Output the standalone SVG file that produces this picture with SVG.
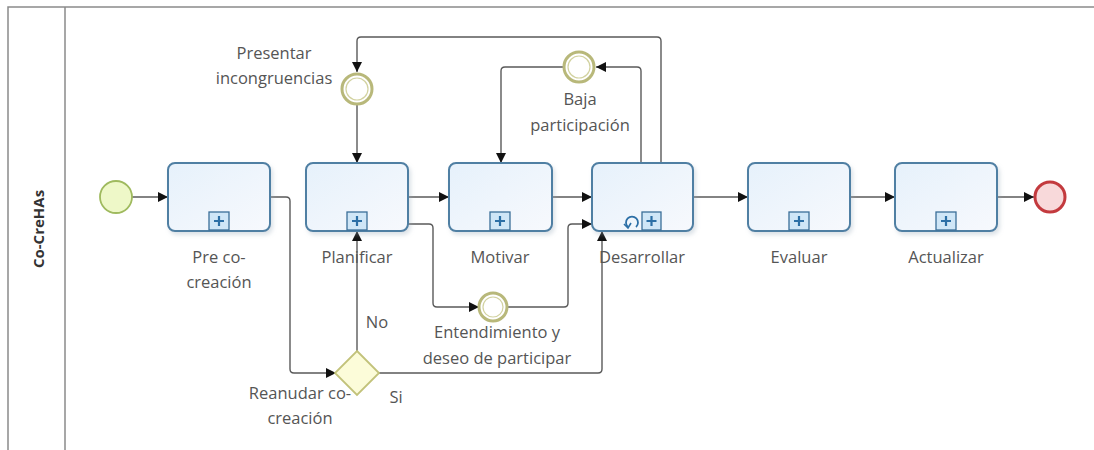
<svg xmlns="http://www.w3.org/2000/svg" width="1094" height="450" viewBox="0 0 1094 450">
<defs>
<style>
.lane{fill:none;stroke:#8a8a8a;stroke-width:1.5}
.task{fill:url(#tg);stroke:#4f7fa3;stroke-width:2;filter:url(#sh)}
.mk{fill:#cfe6f7;stroke:#3b6f99;stroke-width:1.3}
.plus{stroke:#2c6fa6;stroke-width:2.2}
.lbl{font-family:"Open Sans","Noto Sans",sans-serif;font-size:16.5px;fill:#555;text-anchor:middle}
.conn{fill:none;stroke:#5a5a5a;stroke-width:1.4;stroke-linejoin:round}
.ie{fill:#fff;stroke:#b8b87a;stroke-width:3}
.ie2{fill:none;stroke:#d2d2a0;stroke-width:1.2}
</style>
<linearGradient id="tg" x1="0" y1="0" x2="1" y2="1">
<stop offset="0" stop-color="#e6f1fb"/><stop offset="1" stop-color="#f7f9fd"/>
</linearGradient>
<filter id="sh" x="-10%" y="-10%" width="130%" height="130%">
<feDropShadow dx="2" dy="3" stdDeviation="2" flood-color="#9ab" flood-opacity="0.35"/>
</filter>
<marker id="ar" viewBox="0 0 10 10" refX="10" refY="5" markerWidth="10" markerHeight="10" markerUnits="userSpaceOnUse" orient="auto">
<path d="M0,0 L10,5 L0,10 z" fill="#111"/>
</marker>
</defs>

<g id="lane">
<path class="lane" d="M1094,7 H8 V450"/>
<line class="lane" x1="65" y1="7" x2="65" y2="450"/>
<text x="40" y="229" transform="rotate(-90 40 229)" font-family="'Open Sans','Noto Sans',sans-serif" font-size="15" font-weight="bold" fill="#333" text-anchor="middle" dominant-baseline="middle">Co-CreHAs</text>
</g>

<g id="connectors">
<path class="conn" marker-end="url(#ar)" d="M132,197 H168"/>
<path class="conn" marker-end="url(#ar)" d="M270,197 H286 Q290,197 290,201 V369 Q290,373 294,373 H336"/>
<path class="conn" marker-end="url(#ar)" d="M357,351 V231"/>
<path class="conn" marker-end="url(#ar)" d="M379,373 H598 Q602,373 602,369 V231"/>
<path class="conn" marker-end="url(#ar)" d="M357,104 V163"/>
<path class="conn" marker-end="url(#ar)" d="M661,163 V41 Q661,37 657,37 H361 Q357,37 357,41 V72"/>
<path class="conn" marker-end="url(#ar)" d="M641,163 V71 Q641,67 637,67 H596"/>
<path class="conn" marker-end="url(#ar)" d="M563,67 H505 Q501,67 501,71 V163"/>
<path class="conn" marker-end="url(#ar)" d="M408,197 H449"/>
<path class="conn" marker-end="url(#ar)" d="M408,224 H429 Q433,224 433,228 V303 Q433,307 437,307 H479"/>
<path class="conn" marker-end="url(#ar)" d="M507,307 H564 Q568,307 568,303 V228 Q568,224 572,224 H592"/>
<path class="conn" marker-end="url(#ar)" d="M552,197 H592"/>
<path class="conn" marker-end="url(#ar)" d="M693,197 H748"/>
<path class="conn" marker-end="url(#ar)" d="M850,197 H895"/>
<path class="conn" marker-end="url(#ar)" d="M997,197 H1034"/>
<text class="lbl" x="377" y="328">No</text>
<text class="lbl" x="396" y="403">Si</text>
</g>

<g id="start">
<circle cx="116" cy="197" r="16" fill="#eef8c8" stroke="#9fba5e" stroke-width="1.8"/>
</g>

<g id="pre">
<rect class="task" x="168" y="163" width="102" height="68" rx="7"/>
<rect class="mk" x="209" y="212" width="20" height="18"/>
<path class="plus" d="M219,216 V226 M214,221 H224"/>
<text class="lbl" x="219" y="263">Pre co-</text>
<text class="lbl" x="219" y="288">creación</text>
</g>

<g id="planificar">
<rect class="task" x="306" y="163" width="102" height="68" rx="7"/>
<rect class="mk" x="347" y="212" width="20" height="18"/>
<path class="plus" d="M357,216 V226 M352,221 H362"/>
<text class="lbl" x="357" y="263">Planificar</text>
</g>

<g id="motivar">
<rect class="task" x="449" y="163" width="103" height="68" rx="7"/>
<rect class="mk" x="490" y="212" width="20" height="18"/>
<path class="plus" d="M500,216 V226 M495,221 H505"/>
<text class="lbl" x="500" y="263">Motivar</text>
</g>

<g id="desarrollar">
<rect class="task" x="592" y="163" width="101" height="68" rx="7"/>
<rect class="mk" x="642" y="212" width="19" height="18"/>
<path class="plus" d="M651.5,216 V226 M646.5,221 H656.5"/>
<path d="M628,227 A6,6 0 1 1 636,227" fill="none" stroke="#2c6fa6" stroke-width="1.8"/>
<path d="M624,224 L628,228 L631,223" fill="none" stroke="#2c6fa6" stroke-width="1.6"/>
<text class="lbl" x="642" y="263">Desarrollar</text>
</g>

<g id="evaluar">
<rect class="task" x="748" y="163" width="102" height="68" rx="7"/>
<rect class="mk" x="789" y="212" width="20" height="18"/>
<path class="plus" d="M799,216 V226 M794,221 H804"/>
<text class="lbl" x="799" y="263">Evaluar</text>
</g>

<g id="actualizar">
<rect class="task" x="895" y="163" width="102" height="68" rx="7"/>
<rect class="mk" x="936" y="212" width="20" height="18"/>
<path class="plus" d="M946,216 V226 M941,221 H951"/>
<text class="lbl" x="946" y="263">Actualizar</text>
</g>

<g id="end">
<circle cx="1050" cy="197" r="15" fill="#f8d9da" stroke="#c33a3e" stroke-width="3"/>
</g>

<g id="presentar">
<circle class="ie" cx="357" cy="89" r="15"/>
<circle class="ie2" cx="357" cy="89" r="11"/>
<text class="lbl" x="274" y="59">Presentar</text>
<text class="lbl" x="274" y="84">incongruencias</text>
</g>

<g id="baja">
<circle class="ie" cx="579" cy="67" r="15"/>
<circle class="ie2" cx="579" cy="67" r="11"/>
<text class="lbl" x="580" y="105">Baja</text>
<text class="lbl" x="580" y="131">participación</text>
</g>

<g id="entendimiento">
<circle class="ie" cx="493" cy="307" r="14"/>
<circle class="ie2" cx="493" cy="307" r="10"/>
<text class="lbl" x="497" y="338">Entendimiento y</text>
<text class="lbl" x="497" y="364">deseo de participar</text>
</g>

<g id="gateway">
<path d="M357,351 L379,373 L357,395 L335,373 Z" fill="#fcfcd9" stroke="#c2c27a" stroke-width="1.8"/>
<text class="lbl" x="300" y="399">Reanudar co-</text>
<text class="lbl" x="300" y="424">creación</text>
</g>
</svg>
